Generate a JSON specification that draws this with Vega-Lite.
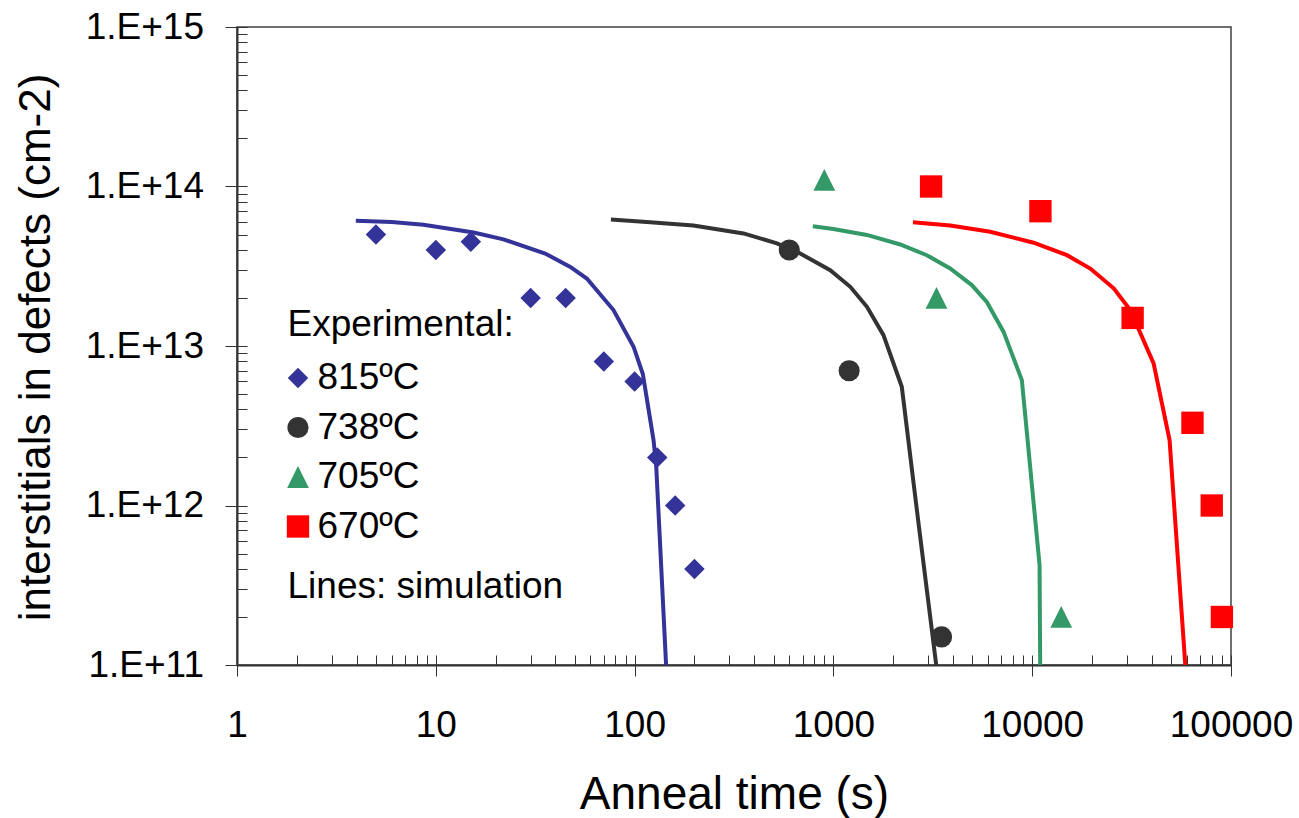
{
  "$schema": "https://vega.github.io/schema/vega-lite/v6.json",
  "width": 994,
  "height": 638,
  "autosize": {"type": "none"},
  "padding": {"left": 237, "top": 27, "right": 68, "bottom": 153},
  "background": "white",
  "config": {
    "font": "Liberation Sans",
    "view": {"stroke": "#404040", "strokeWidth": 1.5},
    "axis": {"grid": false}
  },
  "datasets": {
    "points": [
      {"series": "815ºC", "t": 5, "n": 5e13},
      {"series": "815ºC", "t": 10, "n": 4e13},
      {"series": "815ºC", "t": 15, "n": 4.5e13},
      {"series": "815ºC", "t": 30, "n": 2e13},
      {"series": "815ºC", "t": 45, "n": 2e13},
      {"series": "815ºC", "t": 70, "n": 8e12},
      {"series": "815ºC", "t": 100, "n": 6e12},
      {"series": "815ºC", "t": 130, "n": 2e12},
      {"series": "815ºC", "t": 160, "n": 1e12},
      {"series": "815ºC", "t": 200, "n": 4e11},
      {"series": "738ºC", "t": 600, "n": 4e13},
      {"series": "738ºC", "t": 1200, "n": 7e12},
      {"series": "738ºC", "t": 3500, "n": 1.5e11},
      {"series": "705ºC", "t": 900, "n": 1.1e14},
      {"series": "705ºC", "t": 3300, "n": 2e13},
      {"series": "705ºC", "t": 14000, "n": 2e11},
      {"series": "670ºC", "t": 3100, "n": 1e14},
      {"series": "670ºC", "t": 11000, "n": 7e13},
      {"series": "670ºC", "t": 32000, "n": 1.5e13},
      {"series": "670ºC", "t": 64000, "n": 3.3e12},
      {"series": "670ºC", "t": 80000, "n": 1e12},
      {"series": "670ºC", "t": 90000, "n": 2e11}
    ],
    "lines": [
      {"series": "815ºC", "t": 3.96, "n": 6.09e13},
      {"series": "815ºC", "t": 6.01, "n": 5.98e13},
      {"series": "815ºC", "t": 8.67, "n": 5.75e13},
      {"series": "815ºC", "t": 15.5, "n": 5.15e13},
      {"series": "815ºC", "t": 21.9, "n": 4.66e13},
      {"series": "815ºC", "t": 35.5, "n": 3.8e13},
      {"series": "815ºC", "t": 47.5, "n": 3.13e13},
      {"series": "815ºC", "t": 57.5, "n": 2.65e13},
      {"series": "815ºC", "t": 78.3, "n": 1.68e13},
      {"series": "815ºC", "t": 98.8, "n": 9.9e12},
      {"series": "815ºC", "t": 110, "n": 6.67e12},
      {"series": "815ºC", "t": 124.5, "n": 2.57e12},
      {"series": "815ºC", "t": 128.5, "n": 1.75e12},
      {"series": "815ºC", "t": 144, "n": 1e11},
      {"series": "738ºC", "t": 76, "n": 6.21e13},
      {"series": "738ºC", "t": 119.8, "n": 5.97e13},
      {"series": "738ºC", "t": 197.6, "n": 5.7e13},
      {"series": "738ºC", "t": 353, "n": 5.08e13},
      {"series": "738ºC", "t": 520, "n": 4.4e13},
      {"series": "738ºC", "t": 681, "n": 3.8e13},
      {"series": "738ºC", "t": 964, "n": 2.99e13},
      {"series": "738ºC", "t": 1216, "n": 2.35e13},
      {"series": "738ºC", "t": 1475, "n": 1.76e13},
      {"series": "738ºC", "t": 1786, "n": 1.17e13},
      {"series": "738ºC", "t": 2208, "n": 5.55e12},
      {"series": "738ºC", "t": 2680, "n": 7.73e11},
      {"series": "738ºC", "t": 3290, "n": 1e11},
      {"series": "705ºC", "t": 788, "n": 5.64e13},
      {"series": "705ºC", "t": 999, "n": 5.42e13},
      {"series": "705ºC", "t": 1474, "n": 4.97e13},
      {"series": "705ºC", "t": 2168, "n": 4.33e13},
      {"series": "705ºC", "t": 2952, "n": 3.71e13},
      {"series": "705ºC", "t": 3866, "n": 3.06e13},
      {"series": "705ºC", "t": 4968, "n": 2.41e13},
      {"series": "705ºC", "t": 5910, "n": 1.89e13},
      {"series": "705ºC", "t": 7170, "n": 1.23e13},
      {"series": "705ºC", "t": 8870, "n": 6.11e12},
      {"series": "705ºC", "t": 10890, "n": 4.24e11},
      {"series": "705ºC", "t": 10970, "n": 1e11},
      {"series": "670ºC", "t": 2512, "n": 5.97e13},
      {"series": "670ºC", "t": 3869, "n": 5.7e13},
      {"series": "670ºC", "t": 6150, "n": 5.2e13},
      {"series": "670ºC", "t": 10160, "n": 4.44e13},
      {"series": "670ºC", "t": 14960, "n": 3.71e13},
      {"series": "670ºC", "t": 19600, "n": 3.06e13},
      {"series": "670ºC", "t": 25700, "n": 2.3e13},
      {"series": "670ºC", "t": 31140, "n": 1.68e13},
      {"series": "670ºC", "t": 40800, "n": 7.78e12},
      {"series": "670ºC", "t": 49100, "n": 2.57e12},
      {"series": "670ºC", "t": 58900, "n": 1e11}
    ],
    "notes": [{"label": "Lines: simulation"}]
  },
  "layer": [
    {
      "data": {"name": "lines"},
      "mark": {"type": "line", "strokeWidth": 4, "clip": true},
      "encoding": {
        "x": {
          "field": "t", "type": "quantitative",
          "scale": {"type": "log", "domain": [1, 100000]},
          "axis": {
            "orient": "bottom",
            "values": [1,2,3,4,5,6,7,8,9,10,20,30,40,50,60,70,80,90,100,200,300,400,500,600,700,800,900,1000,2000,3000,4000,5000,6000,7000,8000,9000,10000,20000,30000,40000,50000,60000,70000,80000,90000,100000],
            "labels": false, "domain": false, "title": null,
            "tickSize": -10, "tickColor": "#333333", "tickWidth": 1
          }
        },
        "y": {
          "field": "n", "type": "quantitative",
          "scale": {"type": "log", "domain": [1e11, 1e15]},
          "axis": {
            "orient": "left",
            "values": [1e11,2e11,3e11,4e11,5e11,6e11,7e11,8e11,9e11,1e12,2e12,3e12,4e12,5e12,6e12,7e12,8e12,9e12,1e13,2e13,3e13,4e13,5e13,6e13,7e13,8e13,9e13,1e14,2e14,3e14,4e14,5e14,6e14,7e14,8e14,9e14,1e15],
            "labels": false, "domain": false, "title": null,
            "tickSize": -10, "tickColor": "#333333", "tickWidth": 1
          }
        },
        "color": {
          "field": "series", "type": "nominal",
          "scale": {"domain": ["815ºC", "738ºC", "705ºC", "670ºC"], "range": ["#333399", "#333333", "#339966", "#FF0000"]},
          "legend": null
        }
      }
    },
    {
      "data": {"name": "points"},
      "mark": {"type": "point", "filled": true, "opacity": 1, "strokeWidth": 0},
      "encoding": {
        "x": {
          "field": "t", "type": "quantitative",
          "scale": {"type": "log", "domain": [1, 100000]},
          "axis": {
            "orient": "bottom",
            "values": [1, 10, 100, 1000, 10000, 100000],
            "format": "d",
            "labelFontSize": 37, "labelColor": "black", "labelPadding": 31.5,
            "labelFlush": false, "labelOverlap": false, "labelBaseline": "top",
            "tickSize": 11, "tickColor": "#333333", "tickWidth": 1,
            "domainColor": "#333333", "domainWidth": 2,
            "title": "Anneal time (s)", "titleFontSize": 46, "titleFontWeight": "normal",
            "titleColor": "black", "titleBaseline": "alphabetic", "titleX": 497, "titleY": 143
          }
        },
        "y": {
          "field": "n", "type": "quantitative",
          "scale": {"type": "log", "domain": [1e11, 1e15]},
          "axis": {
            "orient": "left",
            "values": [1e11, 1e12, 1e13, 1e14, 1e15],
            "labelExpr": "'1.E+' + round(log(datum.value) / LN10)",
            "labelFontSize": 37, "labelColor": "black", "labelPadding": 21.5,
            "labelFlush": false, "labelOverlap": false,
            "tickSize": 12, "tickColor": "#333333", "tickWidth": 1,
            "domainColor": "#333333", "domainWidth": 2,
            "title": "interstitials in defects (cm-2)", "titleFontSize": 44, "titleFontWeight": "normal",
            "titleColor": "black", "titleBaseline": "alphabetic", "titleX": -188, "titleY": 320, "titleAlign": "center"
          }
        },
        "size": {
          "field": "series", "type": "nominal",
          "scale": {"domain": ["815ºC", "738ºC", "705ºC", "670ºC"], "range": [420, 500, 150, 455]},
          "legend": null
        },
        "color": {
          "field": "series", "type": "nominal",
          "scale": {"domain": ["815ºC", "738ºC", "705ºC", "670ºC"], "range": ["#333399", "#333333", "#339966", "#FF0000"]},
          "legend": {
            "title": "Experimental:", "orient": "none", "legendX": 50.5, "legendY": 280,
            "titleFontSize": 37, "titleFontWeight": "normal", "titleColor": "black", "titleLimit": 500,
            "labelFontSize": 37, "labelColor": "black", "labelOffset": 1, "labelLimit": 300,
            "symbolSize": 540, "symbolOffset": -8, "symbolStrokeWidth": 0, "rowPadding": 11.5, "titlePadding": 15.5, "padding": 0,
            "encode": {"symbols": {"update": {"size": {"signal": "datum.value === '705ºC' ? 160 : 540"}}}}
          }
        },
        "shape": {
          "field": "series", "type": "nominal",
          "scale": {"domain": ["815ºC", "738ºC", "705ºC", "670ºC"], "range": ["diamond", "circle", "M0,-1L1,1L-1,1Z", "square"]},
          "legend": {
            "title": "Experimental:", "orient": "none", "legendX": 50.5, "legendY": 280,
            "titleFontSize": 37, "titleFontWeight": "normal", "titleColor": "black", "titleLimit": 500,
            "labelFontSize": 37, "labelColor": "black", "labelOffset": 1, "labelLimit": 300,
            "symbolSize": 540, "symbolOffset": -8, "symbolStrokeWidth": 0, "rowPadding": 11.5, "titlePadding": 15.5, "padding": 0,
            "encode": {"symbols": {"update": {"size": {"signal": "datum.value === '705ºC' ? 160 : 540"}}}}
          }
        }
      }
    },
    {
      "data": {"name": "notes"},
      "mark": {"type": "text", "align": "left", "baseline": "alphabetic", "fontSize": 37, "color": "black"},
      "encoding": {
        "x": {"datum": 1.795, "type": "quantitative", "scale": {"type": "log", "domain": [1, 100000]}, "axis": null},
        "y": {"datum": 2.62e11, "type": "quantitative", "scale": {"type": "log", "domain": [1e11, 1e15]}, "axis": null},
        "text": {"field": "label"}
      }
    }
  ],
  "resolve": {
    "axis": {"x": "independent", "y": "independent"},
    "legend": {"color": "independent", "shape": "independent", "size": "independent"}
  }
}
